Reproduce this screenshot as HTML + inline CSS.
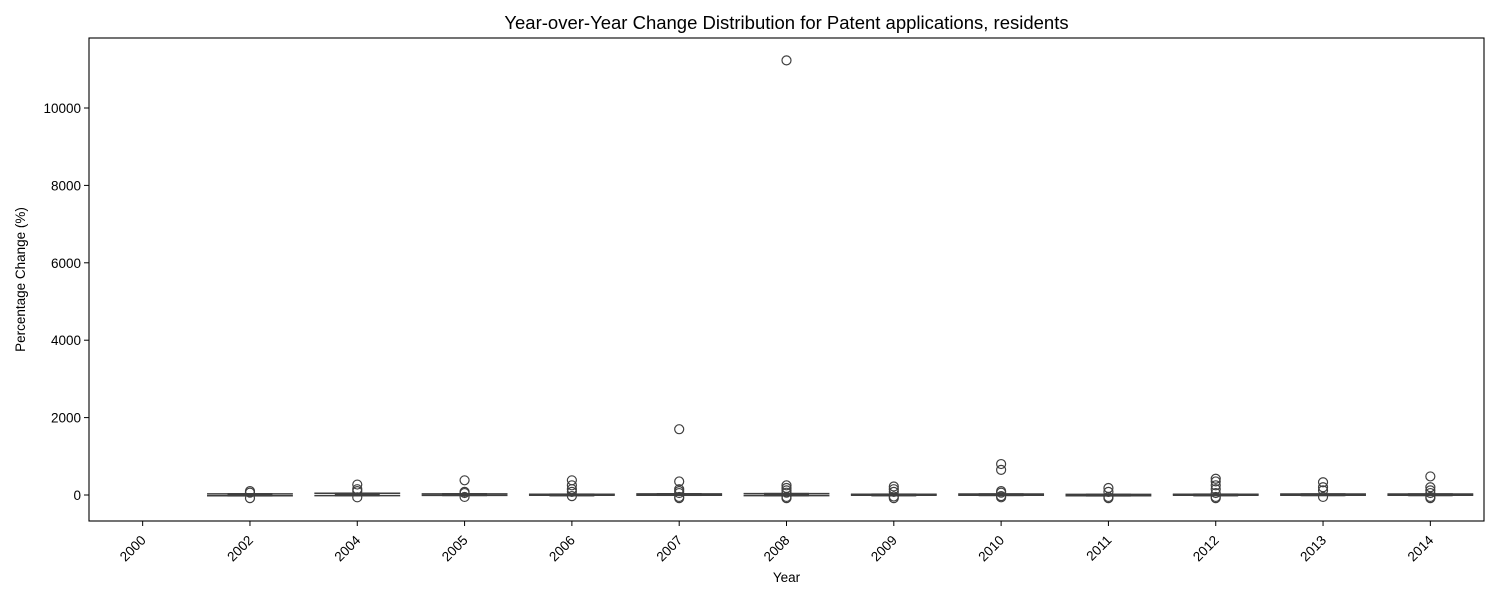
<!DOCTYPE html>
<html><head><meta charset="utf-8"><style>
body{margin:0;background:#fff;font-family:"Liberation Sans","DejaVu Sans",sans-serif}
svg text{font-family:"Liberation Sans","DejaVu Sans",sans-serif;fill:#000}
</style></head><body>
<svg id="chart" width="1500" height="600" xmlns="http://www.w3.org/2000/svg"></svg>
<script>
const years = ["2000","2002","2004","2005","2006","2007","2008","2009","2010","2011","2012","2013","2014"];
const q1 = [null,-15,-10,-5,-5,0,-10,-5,-5,-15,-5,-5,-5];
const med = [null,5,10,5,3,8,3,2,5,-5,3,3,3];
const q3 = [null,25,40,25,15,25,30,15,20,10,15,20,20];
const whLo = [null,-20,-15,-10,-8,-5,-15,-8,-8,-20,-8,-8,-8];
const whHi = [null,30,45,30,20,30,35,20,25,15,20,25,25];
const outliers = [[],[-80,100,60],[270,150,100,-60],[380,80,50,-50],[380,250,150,80,-30],[1700,350,150,100,50,-50,-80],[11230,250,180,120,60,-50,-80],[220,150,80,-40,-80],[800,650,100,60,-30,-60],[180,80,-50,-80],[420,350,250,150,50,-50,-80],[330,200,120,-50],[480,200,120,50,-50,-80]];
const yTicks = [0,2000,4000,6000,8000,10000];

const L=89,R=1484,T=38,B=521;
const NS="http://www.w3.org/2000/svg";
const svg=document.getElementById('chart');
const step=(R-L)/years.length;
const x=i=>L+step*(i+0.5);
const y=v=>495-v*(495-108)/10000;
function mk(tag,attrs,parent){const e=document.createElementNS(NS,tag);for(const k in attrs)e.setAttribute(k,attrs[k]);(parent||svg).appendChild(e);return e;}

const title=mk('text',{x:(L+R)/2,y:29,'text-anchor':'middle','font-size':'18.5'});
title.textContent='Year-over-Year Change Distribution for Patent applications, residents';



years.forEach((yr,i)=>{
  const g=mk('g',{});
  
  
  if(q1[i]!==null){
    const cx=x(i),hw=step*0.4;
    mk('line',{x1:cx-hw,x2:cx+hw,y1:y(whLo[i]),y2:y(whLo[i]),stroke:'#3f3f3f','stroke-width':1.5},g);
    mk('line',{x1:cx-hw,x2:cx+hw,y1:y(whHi[i]),y2:y(whHi[i]),stroke:'#3f3f3f','stroke-width':1.5},g);
    mk('line',{x1:cx,x2:cx,y1:y(whLo[i]),y2:y(whHi[i]),stroke:'#3f3f3f','stroke-width':1.5},g);
    mk('rect',{x:cx-hw*0.5,y:y(q3[i]),width:hw,height:Math.max(1,y(q1[i])-y(q3[i])),fill:'#c8c8c8',stroke:'#3f3f3f','stroke-width':2},g);
    mk('line',{x1:cx-hw*0.5,x2:cx+hw*0.5,y1:y(med[i]),y2:y(med[i]),stroke:'#3f3f3f','stroke-width':2.5},g);
    outliers[i].forEach(v=>{
      const c=mk('circle',{cx:cx,cy:y(v),r:4.5,fill:'none',stroke:'#3f3f3f','stroke-width':1.2},g);
      
      
    });
  }
  mk('line',{x1:x(i),x2:x(i),y1:B,y2:B+5,stroke:'#000','stroke-width':1});
  const t=mk('text',{x:x(i)+4,y:B+20,'text-anchor':'end','font-size':'13.5',transform:`rotate(-45 ${x(i)+4} ${B+20})`});
  t.textContent=yr;
  
  
});

yTicks.forEach(v=>{
  mk('line',{x1:L-5,x2:L,y1:y(v),y2:y(v),stroke:'#000','stroke-width':1});
  const t=mk('text',{x:L-8,y:y(v)+5,'text-anchor':'end','font-size':'13.5'});
  t.textContent=v;
  
  
});

const frame=mk('rect',{x:L,y:T,width:R-L,height:B-T,fill:'none',stroke:'#000','stroke-width':1.1});



const xt=mk('text',{x:(L+R)/2,y:582,'text-anchor':'middle','font-size':'13.5'});
xt.textContent='Year';


const yt=mk('text',{x:25,y:(T+B)/2,'text-anchor':'middle','font-size':'13.5',transform:`rotate(-90 25 ${(T+B)/2})`});
yt.textContent='Percentage Change (%)';


</script>
</body></html>
